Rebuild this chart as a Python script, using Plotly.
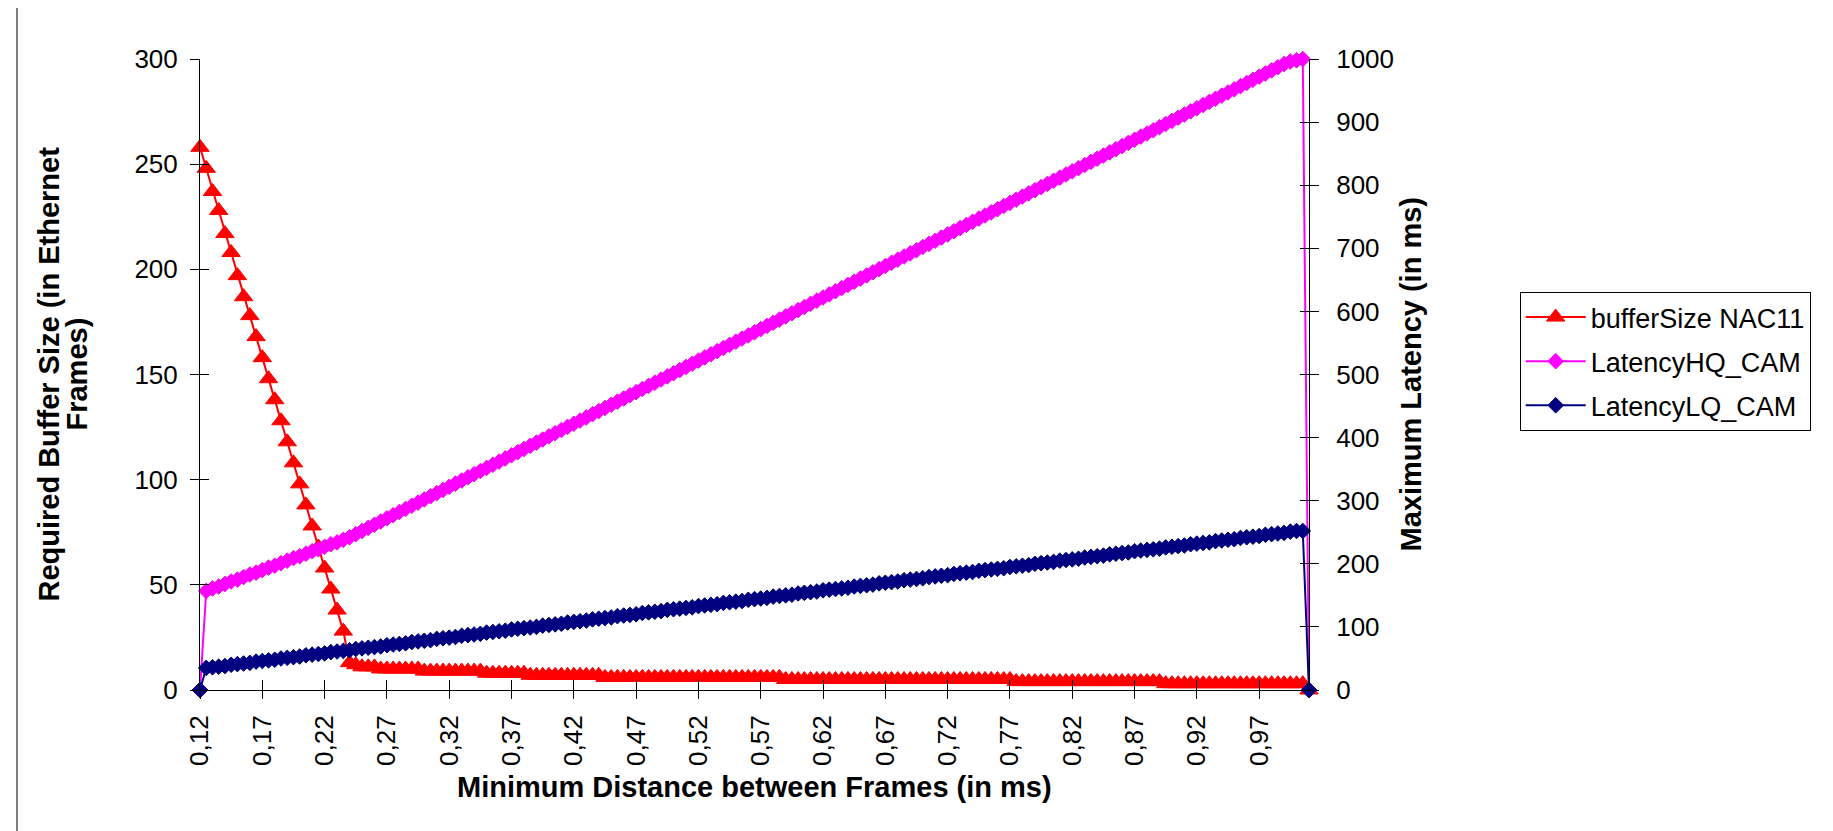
import plotly.graph_objects as go

# ---------------- data ----------------
min_distance_ms = [
    0.12, 0.125, 0.13, 0.135, 0.14, 0.145, 0.15, 0.155, 0.16, 0.165,
    0.17, 0.175, 0.18, 0.185, 0.19, 0.195, 0.2, 0.205, 0.21, 0.215,
    0.22, 0.225, 0.23, 0.235, 0.24, 0.245, 0.25, 0.255, 0.26, 0.265,
    0.27, 0.275, 0.28, 0.285, 0.29, 0.295, 0.3, 0.305, 0.31, 0.315,
    0.32, 0.325, 0.33, 0.335, 0.34, 0.345, 0.35, 0.355, 0.36, 0.365,
    0.37, 0.375, 0.38, 0.385, 0.39, 0.395, 0.4, 0.405, 0.41, 0.415,
    0.42, 0.425, 0.43, 0.435, 0.44, 0.445, 0.45, 0.455, 0.46, 0.465,
    0.47, 0.475, 0.48, 0.485, 0.49, 0.495, 0.5, 0.505, 0.51, 0.515,
    0.52, 0.525, 0.53, 0.535, 0.54, 0.545, 0.55, 0.555, 0.56, 0.565,
    0.57, 0.575, 0.58, 0.585, 0.59, 0.595, 0.6, 0.605, 0.61, 0.615,
    0.62, 0.625, 0.63, 0.635, 0.64, 0.645, 0.65, 0.655, 0.66, 0.665,
    0.67, 0.675, 0.68, 0.685, 0.69, 0.695, 0.7, 0.705, 0.71, 0.715,
    0.72, 0.725, 0.73, 0.735, 0.74, 0.745, 0.75, 0.755, 0.76, 0.765,
    0.77, 0.775, 0.78, 0.785, 0.79, 0.795, 0.8, 0.805, 0.81, 0.815,
    0.82, 0.825, 0.83, 0.835, 0.84, 0.845, 0.85, 0.855, 0.86, 0.865,
    0.87, 0.875, 0.88, 0.885, 0.89, 0.895, 0.9, 0.905, 0.91, 0.915,
    0.92, 0.925, 0.93, 0.935, 0.94, 0.945, 0.95, 0.955, 0.96, 0.965,
    0.97, 0.975, 0.98, 0.985, 0.99, 0.995, 1.0, 1.005, 1.01,
]

buffer_size_nac11 = [
    258, 248, 237, 228, 217, 208, 197, 187, 178, 168,
    158, 148, 138, 128, 118, 108, 98, 88, 78, 68,
    58, 48, 38, 28, 13, 12, 11, 11, 11, 10,
    10, 10, 10, 10, 10, 10, 9, 9, 9, 9,
    9, 9, 9, 9, 9, 9, 8, 8, 8, 8,
    8, 8, 8, 7, 7, 7, 7, 7, 7, 7,
    7, 7, 7, 7, 7, 6, 6, 6, 6, 6,
    6, 6, 6, 6, 6, 6, 6, 6, 6, 6,
    6, 6, 6, 6, 6, 6, 6, 6, 6, 6,
    6, 6, 6, 6, 5, 5, 5, 5, 5, 5,
    5, 5, 5, 5, 5, 5, 5, 5, 5, 5,
    5, 5, 5, 5, 5, 5, 5, 5, 5, 5,
    5, 5, 5, 5, 5, 5, 5, 5, 5, 5,
    5, 4, 4, 4, 4, 4, 4, 4, 4, 4,
    4, 4, 4, 4, 4, 4, 4, 4, 4, 4,
    4, 4, 4, 4, 4, 3, 3, 3, 3, 3,
    3, 3, 3, 3, 3, 3, 3, 3, 3, 3,
    3, 3, 3, 3, 3, 3, 3, 3, 0,
]

latency_hq_cam = [
    0, 157, 161, 164, 168, 172, 175, 179, 183, 186,
    190, 194, 197, 201, 205, 209, 212, 216, 220, 223,
    227, 231, 234, 238, 242, 247, 252, 257, 262, 267,
    272, 277, 282, 287, 292, 297, 302, 307, 312, 317,
    322, 327, 332, 337, 342, 347, 352, 357, 362, 367,
    372, 377, 382, 387, 392, 397, 402, 407, 412, 417,
    422, 427, 432, 437, 442, 447, 452, 457, 462, 467,
    472, 477, 482, 487, 492, 497, 502, 507, 512, 517,
    522, 527, 532, 537, 542, 547, 552, 557, 562, 567,
    572, 577, 582, 587, 592, 597, 602, 607, 612, 617,
    622, 627, 632, 637, 642, 647, 652, 657, 662, 667,
    672, 677, 682, 687, 692, 697, 702, 707, 712, 717,
    722, 727, 732, 737, 742, 747, 752, 757, 762, 767,
    772, 777, 782, 787, 792, 797, 802, 807, 812, 817,
    822, 827, 832, 837, 842, 847, 852, 857, 862, 867,
    872, 877, 882, 887, 892, 897, 902, 907, 912, 917,
    922, 927, 932, 937, 942, 947, 952, 957, 962, 967,
    972, 977, 982, 987, 992, 996, 998, 1000, 0,
]

latency_lq_cam = [
    0, 35, 36, 37, 38, 40, 41, 42, 43, 45,
    46, 47, 48, 50, 51, 52, 53, 55, 56, 57,
    58, 60, 61, 62, 63, 65, 66, 67, 68, 69,
    71, 72, 73, 74, 76, 77, 78, 79, 81, 82,
    83, 84, 86, 87, 88, 89, 91, 92, 93, 94,
    96, 97, 98, 99, 100, 102, 103, 104, 105, 107,
    108, 109, 110, 112, 113, 114, 115, 117, 118, 119,
    120, 122, 123, 124, 125, 127, 128, 129, 130, 131,
    133, 134, 135, 136, 138, 139, 140, 141, 143, 144,
    145, 146, 148, 149, 150, 151, 153, 154, 155, 156,
    158, 159, 160, 161, 162, 164, 165, 166, 167, 169,
    170, 171, 172, 174, 175, 176, 177, 179, 180, 181,
    182, 184, 185, 186, 187, 189, 190, 191, 192, 193,
    195, 196, 197, 198, 200, 201, 202, 203, 205, 206,
    207, 208, 210, 211, 212, 213, 215, 216, 217, 218,
    220, 221, 222, 223, 224, 226, 227, 228, 229, 231,
    232, 233, 234, 236, 237, 238, 239, 241, 242, 243,
    244, 246, 247, 248, 249, 251, 252, 252, 0,
]

x_tick_vals = [0.12, 0.17, 0.22, 0.27, 0.32, 0.37, 0.42, 0.47, 0.52, 0.57,
               0.62, 0.67, 0.72, 0.77, 0.82, 0.87, 0.92, 0.97]
x_tick_text = ["0,12", "0,17", "0,22", "0,27", "0,32", "0,37", "0,42", "0,47", "0,52", "0,57",
               "0,62", "0,67", "0,72", "0,77", "0,82", "0,87", "0,92", "0,97"]
left_tick_vals = [0, 50, 100, 150, 200, 250, 300]
right_tick_vals = [0, 100, 200, 300, 400, 500, 600, 700, 800, 900, 1000]

series_names = ["bufferSize NAC11", "LatencyHQ_CAM", "LatencyLQ_CAM"]
x_title = "Minimum Distance between Frames (in ms)"
left_title_lines = ["Required Buffer Size (in Ethernet", "Frames)"]
right_title = "Maximum Latency (in ms)"

# ---------------- figure ----------------
FONT = "Liberation Sans, Arial, sans-serif"
RED, MAGENTA, NAVY = "#FF0000", "#FF00FF", "#000080"

fig = go.Figure()
fig.add_trace(go.Scatter(
    x=min_distance_ms, y=buffer_size_nac11, name=series_names[0], mode="lines+markers",
    legendgroup="g1",
    line=dict(color=RED, width=2),
    marker=dict(symbol="triangle-up", size=16, color=RED, line=dict(color=RED, width=1)),
    cliponaxis=False, yaxis="y"))
fig.add_trace(go.Scatter(
    x=min_distance_ms, y=latency_hq_cam, name=series_names[1], mode="lines+markers",
    legendgroup="g2",
    line=dict(color=MAGENTA, width=2),
    marker=dict(symbol="diamond", size=12, color=MAGENTA, line=dict(color=MAGENTA, width=1)),
    cliponaxis=False, yaxis="y2"))
fig.add_trace(go.Scatter(
    x=min_distance_ms, y=latency_lq_cam, name=series_names[2], mode="lines+markers",
    legendgroup="g3",
    line=dict(color=NAVY, width=2),
    marker=dict(symbol="diamond", size=12, color=NAVY, line=dict(color=NAVY, width=1)),
    cliponaxis=False, yaxis="y2"))
# empty helper traces so the "inside" half of the crossing tick marks gets drawn
fig.add_trace(go.Scatter(x=[None], y=[None], xaxis="x2", yaxis="y3",
                         showlegend=False, hoverinfo="skip"))
fig.add_trace(go.Scatter(x=[None], y=[None], xaxis="x2", yaxis="y4",
                         showlegend=False, hoverinfo="skip"))

x_range = [min_distance_ms[0], min_distance_ms[-1]]
common_axis = dict(showgrid=False, zeroline=False, tickcolor="black", linecolor="black",
                   linewidth=1, tickwidth=1)
title_font = dict(family=FONT, size=29, color="black")

fig.update_layout(
    width=1833, height=831,
    paper_bgcolor="white", plot_bgcolor="white",
    margin=dict(l=192, r=532, t=51, b=149, pad=0),
    font=dict(family=FONT, size=26, color="black"),
    xaxis=dict(range=x_range, tickvals=x_tick_vals, ticktext=x_tick_text, tickangle=-90,
               ticks="outside", ticklen=8, showline=True, ticklabelstandoff=6,
               tickfont=dict(size=26), **common_axis),
    xaxis2=dict(range=x_range, tickvals=x_tick_vals, overlaying="x", anchor="y", side="bottom",
                ticks="inside", ticklen=10, showticklabels=False, showline=False,
                showgrid=False, zeroline=False, tickcolor="black"),
    yaxis=dict(range=[0, 300], tickvals=left_tick_vals, ticks="outside", ticklen=9,
               showline=True, ticklabelstandoff=7, tickfont=dict(size=26), **common_axis),
    yaxis2=dict(range=[0, 1000], tickvals=right_tick_vals, overlaying="y", side="right",
                anchor="x", ticks="outside", ticklen=9, showline=True, ticklabelstandoff=12,
                tickfont=dict(size=26), **common_axis),
    yaxis3=dict(range=[0, 300], tickvals=left_tick_vals, overlaying="y", side="left",
                anchor="x", ticks="inside", ticklen=9, showticklabels=False, showline=False,
                showgrid=False, zeroline=False, tickcolor="black"),
    yaxis4=dict(range=[0, 1000], tickvals=right_tick_vals, overlaying="y", side="right",
                anchor="x", ticks="inside", ticklen=9, showticklabels=False, showline=False,
                showgrid=False, zeroline=False, tickcolor="black"),
    showlegend=True,
    legend=dict(x=1.190, y=0.6307, xanchor="left", yanchor="top",
                bgcolor="white", bordercolor="black", borderwidth=1,
                tracegroupgap=6,
                font=dict(family=FONT, size=27, color="black"), itemwidth=60),
    annotations=[
        dict(text="<b>" + x_title + "</b>", xref="paper", yref="paper", x=0.5, y=-0.1537,
             xanchor="center", yanchor="middle", showarrow=False, font=title_font),
        dict(text="<b>" + left_title_lines[0] + "</b>", xref="paper", yref="paper",
             x=-0.137, y=0.5, xanchor="center", yanchor="middle", showarrow=False,
             textangle=-90, font=title_font),
        dict(text="<b>" + left_title_lines[1] + "</b>", xref="paper", yref="paper",
             x=-0.1118, y=0.5, xanchor="center", yanchor="middle", showarrow=False,
             textangle=-90, font=title_font),
        dict(text="<b>" + right_title + "</b>", xref="paper", yref="paper", x=1.0911, y=0.5,
             xanchor="center", yanchor="middle", showarrow=False, textangle=-90,
             font=title_font),
    ],
    shapes=[
        dict(type="line", xref="paper", yref="paper", x0=-0.165, x1=-0.165, y0=-0.231, y1=1.1,
             line=dict(color="black", width=1)),
        dict(type="line", xref="paper", yref="paper", x0=-0.165, x1=1.5, y0=-0.231, y1=-0.231,
             line=dict(color="black", width=1)),
    ],
)

fig.write_html("out.html")
